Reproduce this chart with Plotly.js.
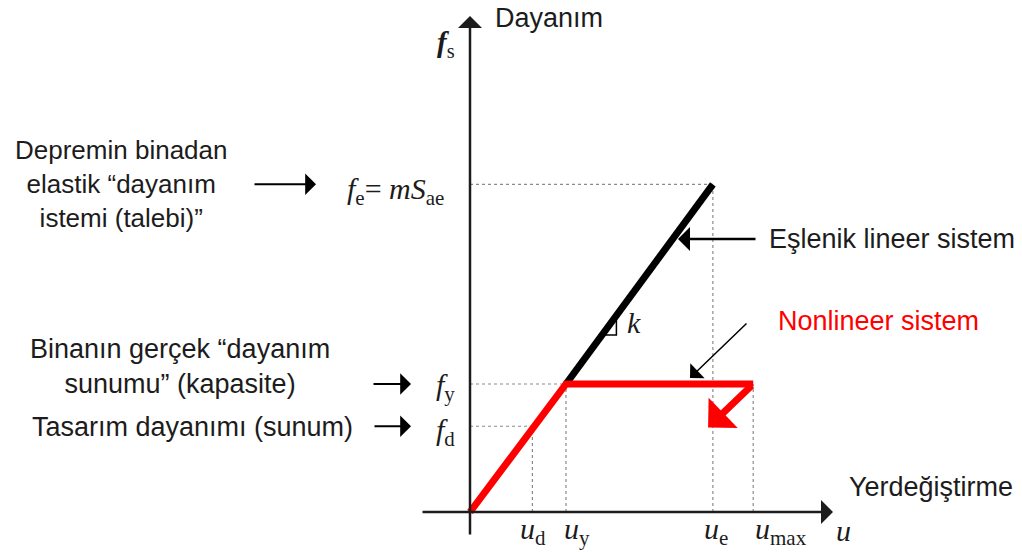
<!DOCTYPE html>
<html>
<head>
<meta charset="utf-8">
<script src="https://cdn.plot.ly/plotly-3.0.1.min.js"></script>
<style>
  html, body { margin: 0; padding: 0; background: #ffffff; }
  #chart { width: 1022px; height: 552px; }
</style>
</head>
<body>
<div id="chart"></div>
<script>
// Displacement levels on the u axis (subscript names and values)
const uNames = ['d', 'y', 'e', 'max'];
const uValues = [0.65, 1.0, 2.53, 2.95];

// Strength levels on the f_s axis
const fNames = ['d', 'y', 'e'];
const fValues = [0.67, 1.0, 2.56];

// End of the unloading branch of the nonlinear system [u, f]
const unloadEnd = [2.48, 0.66];

const u = Object.fromEntries(uNames.map((n, i) => [n, uValues[i]]));
const f = Object.fromEntries(fNames.map((n, i) => [n, fValues[i]]));

// Screen-to-data helpers for placing labels around the diagram
const W = 1022, H = 552, X0 = 470, Y0 = 512, SX = 96, SY = 128;
const X = px => (px - X0) / SX;
const Y = py => (Y0 - py) / SY;

const ink = '#1c1c1c';
const sans = 'Liberation Sans, Arial, sans-serif';
const serif = 'Liberation Serif, Times New Roman, serif';

const guide = (xs, ys) => ({
  x: xs, y: ys, mode: 'lines', hoverinfo: 'skip', showlegend: false,
  line: { color: '#8a8a8a', width: 1.2, dash: 'dot' }
});

// Slope marker on the elastic branch
const slopeAt = 1.375, slopeRun = 0.15;
const slopeK = (f.e - f.y) / (u.e - u.y);
const fOn = uu => f.y + (uu - u.y) * slopeK;

const traces = [
  guide([0, u.e], [f.e, f.e]),
  guide([0, u.y], [f.y, f.y]),
  guide([0, u.d], [f.d, f.d]),
  guide([u.d, u.d], [0, f.d]),
  guide([u.y, u.y], [0, f.y]),
  guide([u.e, u.e], [0, f.e]),
  guide([u.max, u.max], [0, f.y]),
  // equivalent linear system
  { x: [u.y, u.e], y: [f.y, f.e], mode: 'lines', showlegend: false, hoverinfo: 'skip',
    line: { color: '#000000', width: 7 } },
  // nonlinear (elastic-perfectly plastic) system
  { x: [0, u.y, u.max], y: [0, f.y, f.y], mode: 'lines', showlegend: false, hoverinfo: 'skip',
    line: { color: '#ff0000', width: 7 } },
  // slope triangle
  { x: [slopeAt, slopeAt + slopeRun, slopeAt + slopeRun],
    y: [fOn(slopeAt), fOn(slopeAt), fOn(slopeAt + slopeRun)],
    mode: 'lines', showlegend: false, hoverinfo: 'skip',
    line: { color: '#000000', width: 1.5 } }
];

const arrow = (x0, y0, x1, y1, color, width, size) => ({
  x: x1, y: y1, ax: x0, ay: y0, xref: 'x', yref: 'y', axref: 'x', ayref: 'y',
  text: '', showarrow: true, arrowhead: 1, arrowsize: size, arrowwidth: width,
  arrowcolor: color, standoff: 0, startstandoff: 0
});

const label = (text, x, y, opts = {}) => Object.assign({
  x, y, xref: 'x', yref: 'y', text, showarrow: false,
  xanchor: 'center', yanchor: 'middle',
  font: { family: sans, size: 27, color: ink }
}, opts);

const serifFont = size => ({ family: serif, size, color: ink });

const annotations = [
  // axes
  arrow(0, Y(536), 0, Y(16), ink, 2.5, 1.6),
  arrow(X(421), 0, X(833), 0, ink, 2.5, 1.6),
  // unloading branch
  arrow(u.max, f.y, unloadEnd[0], unloadEnd[1], '#ff0000', 7, 1.0),
  // pointer arrows
  arrow(X(253), f.e, X(316), f.e, '#000000', 2, 1.8),
  arrow(X(372), f.y, X(411), f.y, '#000000', 2, 1.8),
  arrow(X(373), f.d, X(411), f.d, '#000000', 2, 1.8),
  arrow(X(757), Y(239), X(678), Y(239), '#000000', 2.5, 1.6),
  arrow(X(748), Y(322), X(690), Y(378), '#000000', 1.5, 2.3),

  // axis captions
  label('Dayanım', X(549), Y(18)),
  label('<b><i>f</i></b><sub>s</sub>', X(446), Y(44), { font: serifFont(29) }),
  label('Yerdeğiştirme', X(931), Y(487)),
  label('<i>u</i>', X(843), Y(530), { font: serifFont(30) }),

  // strength levels
  label('<i>f</i><sub>e</sub>= <i>mS</i><sub>ae</sub>', X(395), Y(191), { font: serifFont(30) }),
  label('<i>f</i><sub>y</sub>', X(445), Y(387), { font: serifFont(30) }),
  label('<i>f</i><sub>d</sub>', X(445), Y(432), { font: serifFont(30) }),

  // slope
  label('<i>k</i>', X(634), Y(322), { font: serifFont(30) }),

  // side notes
  label('Depremin binadan<br>elastik “dayanım<br>istemi (talebi)”', X(121), Y(184), { font: { family: sans, size: 26, color: ink } }),
  label('Binanın gerçek “dayanım<br>sunumu” (kapasite)', X(180), Y(366)),
  label('Tasarım dayanımı (sunum)', X(192), Y(427)),
  label('Eşlenik lineer sistem', X(767), Y(239), { xanchor: 'left' }),
  label('Nonlineer sistem', X(776), Y(321), { xanchor: 'left', font: { family: sans, size: 27, color: '#ff0000' } })
];

// displacement tick labels, nudged left of their guide lines
const uLabelShift = [-14, -4, -11, 0];
uNames.forEach((n, i) => {
  annotations.push(label('<i>u</i><sub>' + n + '</sub>', uValues[i], Y(531),
    { xanchor: 'left', xshift: uLabelShift[i], font: serifFont(30) }));
});

const layout = {
  width: W, height: H,
  margin: { l: 0, r: 0, t: 0, b: 0, pad: 0 },
  paper_bgcolor: '#ffffff', plot_bgcolor: '#ffffff',
  xaxis: { range: [X(0), X(W)], visible: false, fixedrange: true },
  yaxis: { range: [Y(H), Y(0)], visible: false, fixedrange: true },
  showlegend: false,
  annotations
};

Plotly.newPlot('chart', traces, layout, { staticPlot: true, displayModeBar: false });
</script>
</body>
</html>
